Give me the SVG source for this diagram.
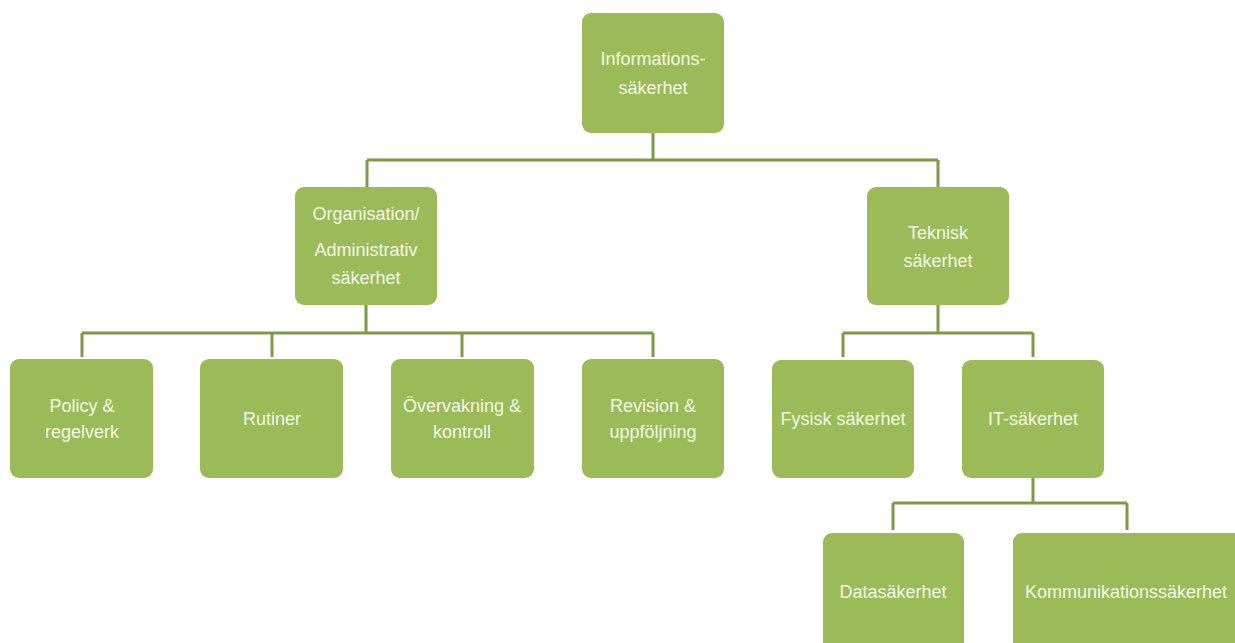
<svg xmlns="http://www.w3.org/2000/svg" width="1235" height="643" viewBox="0 0 1235 643">
<style>
.box{fill:#9bbb59;}
.lbl{font-family:"Liberation Sans","Open Sans",sans-serif;font-size:18px;fill:#f3f7e6;text-anchor:middle;}
.con{fill:none;stroke:#7d9a45;stroke-width:3;}
</style>
<rect width="1235" height="643" fill="#ffffff"/>
<g id="connectors">
<path class="con" d="M653,133V160M367,160H938M367,160V187M938,160V187"/>
<path class="con" d="M366,305V333M82,333H653M82,333V357M272,333V357M462,333V357M653,333V357"/>
<path class="con" d="M938,305V333M843,333H1033M843,333V357M1033,333V357"/>
<path class="con" d="M1033,478V503M893,503H1127M893,503V530M1127,503V530"/>
</g>
<g id="n-info"><rect class="box" x="582" y="13" width="142" height="120" rx="9"/><text class="lbl" x="653" y="65">Informations-</text><text class="lbl" x="653" y="94">säkerhet</text></g>
<g id="n-org"><rect class="box" x="295" y="187" width="142" height="118" rx="9"/><text class="lbl" x="366" y="220">Organisation/</text><text class="lbl" x="366" y="256">Administrativ</text><text class="lbl" x="366" y="284">säkerhet</text></g>
<g id="n-tek"><rect class="box" x="867" y="187" width="142" height="118" rx="9"/><text class="lbl" x="938" y="239">Teknisk</text><text class="lbl" x="938" y="267">säkerhet</text></g>
<g id="n-policy"><rect class="box" x="10" y="359" width="143" height="119" rx="9"/><text class="lbl" x="82" y="412">Policy &amp;</text><text class="lbl" x="82" y="438">regelverk</text></g>
<g id="n-rutiner"><rect class="box" x="200" y="359" width="143" height="119" rx="9"/><text class="lbl" x="272" y="425">Rutiner</text></g>
<g id="n-overv"><rect class="box" x="391" y="359" width="143" height="119" rx="9"/><text class="lbl" x="462" y="412">Övervakning &amp;</text><text class="lbl" x="462" y="438">kontroll</text></g>
<g id="n-revision"><rect class="box" x="582" y="359" width="142" height="119" rx="9"/><text class="lbl" x="653" y="412">Revision &amp;</text><text class="lbl" x="653" y="438">uppföljning</text></g>
<g id="n-fysisk"><rect class="box" x="772" y="360" width="142" height="118" rx="9"/><text class="lbl" x="843" y="425">Fysisk säkerhet</text></g>
<g id="n-it"><rect class="box" x="962" y="360" width="142" height="118" rx="9"/><text class="lbl" x="1033" y="425">IT-säkerhet</text></g>
<g id="n-data"><rect class="box" x="823" y="533" width="141" height="120" rx="9"/><text class="lbl" x="893" y="598">Datasäkerhet</text></g>
<g id="n-komm"><rect class="box" x="1013" y="533" width="230" height="120" rx="9"/><text class="lbl" x="1126" y="598">Kommunikationssäkerhet</text></g>
</svg>
